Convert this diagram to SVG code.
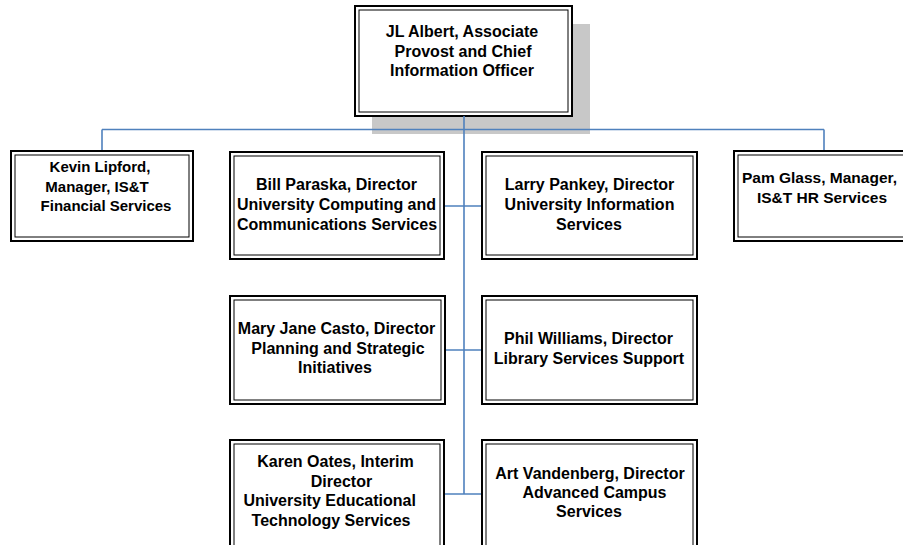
<svg xmlns="http://www.w3.org/2000/svg" width="903" height="545" viewBox="0 0 903 545">
<style>
.o{fill:#fff;stroke:#000;stroke-width:2}
.i{fill:none;stroke:#000;stroke-width:1}
.t{font-family:"Liberation Sans",Arial,sans-serif;font-weight:bold;font-size:16px;fill:#000;text-anchor:middle}
.c{fill:none;stroke:#4f81bd;stroke-width:1.6}
</style>
<rect width="903" height="545" fill="#fff"/>
<rect x="372" y="24" width="218" height="110" fill="#c8c8c8"/>
<g id="n-top">
<rect class="o" x="355" y="6" width="217" height="110"/>
<rect class="i" x="359" y="10" width="209" height="102"/>
<text class="t"><tspan x="462" y="37">JL Albert, Associate</tspan><tspan x="463" y="56.5">Provost and Chief</tspan><tspan x="462" y="76">Information Officer</tspan></text>
</g>
<g id="connectors">
<path class="c" d="M464 116V494M102 129.5H824M102 129.5V150M824 129.5V150M444 206H482M445 350H481M444 494H482"/>
</g>
<g id="n-kevin">
<rect class="o" x="11" y="151" width="182" height="90"/>
<rect class="i" x="15" y="155" width="174" height="82"/>
<text class="t" style="font-size:15px"><tspan x="100" y="172">Kevin Lipford,</tspan><tspan x="97" y="191.5">Manager, IS&amp;T</tspan><tspan x="106" y="211">Financial Services</tspan></text>
</g>
<g id="n-pam">
<rect class="o" x="734" y="151" width="174" height="90"/>
<rect class="i" x="738" y="155" width="166" height="82"/>
<text class="t" style="font-size:15.5px"><tspan x="819.5" y="183">Pam Glass, Manager,</tspan><tspan x="822" y="202.5">IS&amp;T HR Services</tspan></text>
</g>
<g id="n-bill">
<rect class="o" x="230" y="152" width="214" height="107"/>
<rect class="i" x="234" y="156" width="206" height="99"/>
<text class="t"><tspan x="336.5" y="190">Bill Paraska, Director</tspan><tspan x="336.5" y="210">University Computing and</tspan><tspan x="337" y="230">Communications Services</tspan></text>
</g>
<g id="n-larry">
<rect class="o" x="482" y="152" width="215" height="107"/>
<rect class="i" x="486" y="156" width="207" height="99"/>
<text class="t"><tspan x="589.5" y="190">Larry Pankey, Director</tspan><tspan x="589.5" y="210">University Information</tspan><tspan x="589" y="230">Services</tspan></text>
</g>
<g id="n-mary">
<rect class="o" x="230" y="296" width="215" height="108"/>
<rect class="i" x="234" y="300" width="207" height="100"/>
<text class="t"><tspan x="336.5" y="334">Mary Jane Casto, Director</tspan><tspan x="338" y="354">Planning and Strategic</tspan><tspan x="335" y="373">Initiatives</tspan></text>
</g>
<g id="n-phil">
<rect class="o" x="482" y="296" width="215" height="108"/>
<rect class="i" x="486" y="300" width="207" height="100"/>
<text class="t"><tspan x="588.5" y="344">Phil Williams, Director</tspan><tspan x="589" y="363.5">Library Services Support</tspan></text>
</g>
<g id="n-karen">
<rect class="o" x="230" y="440" width="214" height="112"/>
<rect class="i" x="234" y="444" width="206" height="104"/>
<text class="t"><tspan x="335.5" y="467">Karen Oates, Interim</tspan><tspan x="341.5" y="486.5">Director</tspan><tspan x="329.7" y="506">University Educational</tspan><tspan x="331" y="525.5">Technology Services</tspan></text>
</g>
<g id="n-art">
<rect class="o" x="482" y="440" width="215" height="112"/>
<rect class="i" x="486" y="444" width="207" height="104"/>
<text class="t"><tspan x="590" y="479">Art Vandenberg, Director</tspan><tspan x="594.5" y="498">Advanced Campus</tspan><tspan x="589" y="517">Services</tspan></text>
</g>
</svg>
